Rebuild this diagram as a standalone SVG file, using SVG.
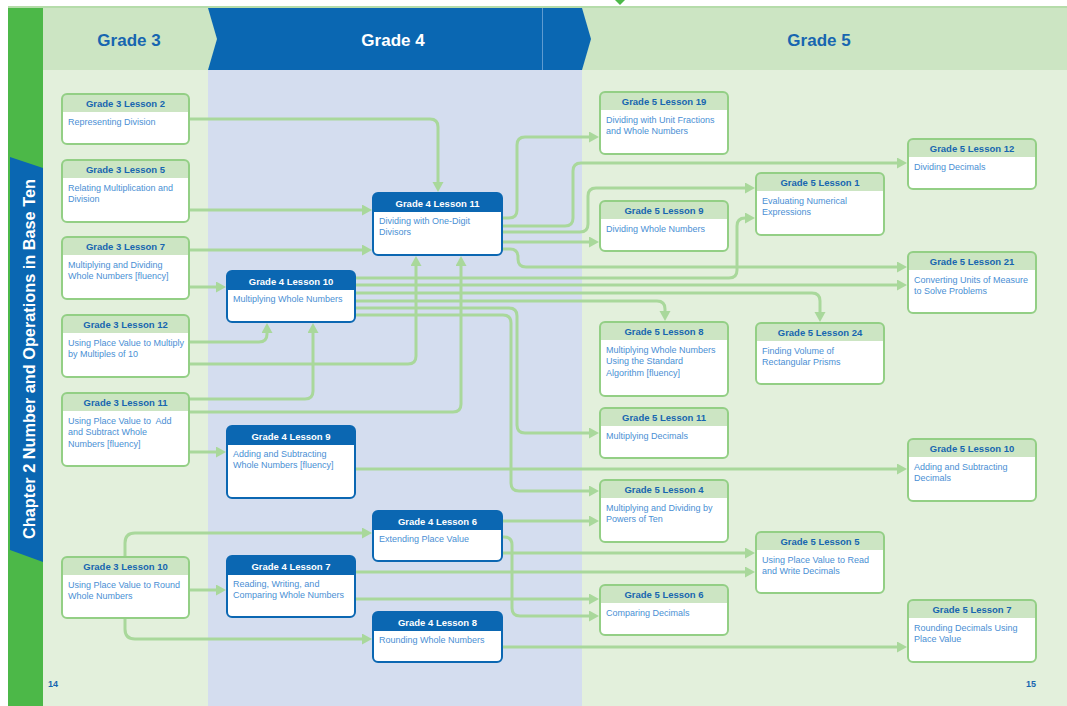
<svg xmlns="http://www.w3.org/2000/svg" width="1067" height="706" viewBox="0 0 1067 706">
<style>
.box{fill:#fff;stroke:none}
.ol{fill:none;stroke-width:2}
.g .ol{stroke:#93cf85}
.b .ol{stroke:#0b67b2}
.g .hd{fill:#cce5c3}
.b .hd{fill:#0b67b2}
.ht{font-family:"Liberation Sans",Arial,sans-serif;font-weight:bold;font-size:9.5px;text-anchor:middle;fill:#1766b0}
.b .ht{fill:#fff}
.bt{font-family:"Liberation Sans",Arial,sans-serif;font-size:9px;fill:#4a8fd4}
.cn path{fill:none;stroke:#a9d89b;stroke-width:3;marker-end:url(#ar)}
.gh{font-family:"Liberation Sans",Arial,sans-serif;font-weight:bold;font-size:17px;text-anchor:middle}
.pn{font-family:"Liberation Sans",Arial,sans-serif;font-weight:bold;font-size:9px;fill:#1766b0}
</style>
<defs>
<marker id="ar" markerUnits="userSpaceOnUse" markerWidth="11" markerHeight="12" refX="6" refY="5.5" orient="auto">
<path d="M0,0 L10,5.5 L0,11 z" fill="#a9d89b"/>
</marker>
</defs>
<rect x="0" y="0" width="1067" height="706" fill="#fff"/>
<!-- backgrounds -->
<rect x="8" y="8" width="1059" height="698" fill="#e3f0dc"/>
<rect x="208" y="70" width="374" height="636" fill="#d4ddef"/>
<line x1="8" y1="7" x2="1067" y2="7" stroke="#b5dcaa" stroke-width="2"/>
<polygon points="615,0 625,0 620,5" fill="#4cb848"/>
<!-- headers -->
<rect x="542" y="8" width="525" height="62" fill="#cce5c3"/>
<polygon points="208,8 582,8 591,39 582,70 208,70" fill="#0a67b2"/>
<line x1="542.5" y1="8" x2="542.5" y2="70" stroke="#5f9bd0" stroke-width="1"/>
<polygon points="43,8 208,8 217,39 208,70 43,70" fill="#cce5c3"/>
<text class="gh" x="129" y="46" fill="#1766b0">Grade 3</text>
<text class="gh" x="393" y="46" fill="#fff">Grade 4</text>
<text class="gh" x="819" y="46" fill="#1766b0">Grade 5</text>
<!-- left strip -->
<rect x="8" y="8" width="35" height="698" fill="#4cb848"/>
<polygon points="10,157 43,168 43,562 10,550" fill="#0a67b2"/>
<text transform="translate(35,359) rotate(-90)" font-family="'Liberation Sans',Arial,sans-serif" font-weight="bold" font-size="16.3" fill="#fff" text-anchor="middle">Chapter 2 Number and Operations in Base Ten</text>
<text class="pn" x="48" y="687">14</text>
<text class="pn" x="1026" y="687">15</text>

<!-- connectors -->
<g class="cn" id="connectors">
<path d="M189,119 H430 Q438,119 438,127 V188"/>
<path d="M189,210 H368"/>
<path d="M189,250 H368"/>
<path d="M189,287 H222"/>
<path d="M189,342 H259 Q267,342 267,334 V327"/>
<path d="M189,364 H408 Q416,364 416,356 V260"/>
<path d="M189,399 H305 Q313,399 313,391 V327"/>
<path d="M189,412 H453 Q461,412 461,404 V260"/>
<path d="M189,452 H222"/>
<path d="M125,557 V543 Q125,533 135,533 H368"/>
<path d="M189,590 H222"/>
<path d="M125,618 V629 Q125,639 135,639 H368"/>
<path d="M502,218 H509 Q517,218 517,210 V145 Q517,137 525,137 H595"/>
<path d="M502,226 H565 Q573,226 573,218 V171 Q573,163 581,163 H903"/>
<path d="M502,232 H580 Q588,232 588,224 V196 Q588,188 596,188 H751"/>
<path d="M502,242 H595"/>
<path d="M502,249 H510 Q518,249 518,257 V259 Q518,267 526,267 H903"/>
<path d="M355,278 H729 Q737,278 737,270 V226 Q737,218 745,218 H751"/>
<path d="M355,285 H903"/>
<path d="M355,293 H812 Q820,293 820,301 V318"/>
<path d="M355,301 H657 Q665,301 665,309 V317"/>
<path d="M355,308 H509 Q517,308 517,316 V425 Q517,433 525,433 H595"/>
<path d="M355,315 H503 Q511,315 511,323 V483 Q511,491 519,491 H595"/>
<path d="M355,469 H903"/>
<path d="M502,521 H595"/>
<path d="M502,537 H504 Q512,537 512,545 V608 Q512,616 520,616 H595"/>
<path d="M502,553 H751"/>
<path d="M355,572 H751"/>
<path d="M355,599 H595"/>
<path d="M502,647 H903"/>
</g>

<!-- Grade 3 nodes -->
<g id="g3l2" class="g"><rect class="box" x="62" y="94" width="127" height="50" rx="5"/><rect class="hd" x="62" y="94" width="127" height="18" rx="5"/><rect class="hd" x="62" y="104" width="127" height="8"/><rect class="ol" x="62" y="94" width="127" height="50" rx="5"/><text class="ht" x="125.5" y="107">Grade 3 Lesson 2</text><text class="bt" x="68" y="124.5">Representing Division</text></g>
<g id="g3l5" class="g"><rect class="box" x="62" y="160" width="127" height="62" rx="5"/><rect class="hd" x="62" y="160" width="127" height="18" rx="5"/><rect class="hd" x="62" y="170" width="127" height="8"/><rect class="ol" x="62" y="160" width="127" height="62" rx="5"/><text class="ht" x="125.5" y="173">Grade 3 Lesson 5</text><text class="bt" x="68" y="190.5">Relating Multiplication and</text><text class="bt" x="68" y="202">Division</text></g>
<g id="g3l7" class="g"><rect class="box" x="62" y="237" width="127" height="62" rx="5"/><rect class="hd" x="62" y="237" width="127" height="18" rx="5"/><rect class="hd" x="62" y="247" width="127" height="8"/><rect class="ol" x="62" y="237" width="127" height="62" rx="5"/><text class="ht" x="125.5" y="250">Grade 3 Lesson 7</text><text class="bt" x="68" y="267.5">Multiplying and Dividing</text><text class="bt" x="68" y="279">Whole Numbers [fluency]</text></g>
<g id="g3l12" class="g"><rect class="box" x="62" y="315" width="127" height="62" rx="5"/><rect class="hd" x="62" y="315" width="127" height="18" rx="5"/><rect class="hd" x="62" y="325" width="127" height="8"/><rect class="ol" x="62" y="315" width="127" height="62" rx="5"/><text class="ht" x="125.5" y="328">Grade 3 Lesson 12</text><text class="bt" x="68" y="345.5">Using Place Value to Multiply</text><text class="bt" x="68" y="357">by Multiples of 10</text></g>
<g id="g3l11" class="g"><rect class="box" x="62" y="393" width="127" height="73" rx="5"/><rect class="hd" x="62" y="393" width="127" height="18" rx="5"/><rect class="hd" x="62" y="403" width="127" height="8"/><rect class="ol" x="62" y="393" width="127" height="73" rx="5"/><text class="ht" x="125.5" y="406">Grade 3 Lesson 11</text><text class="bt" x="68" y="423.5" xml:space="preserve">Using Place Value to  Add</text><text class="bt" x="68" y="435">and Subtract Whole</text><text class="bt" x="68" y="446.5">Numbers [fluency]</text></g>
<g id="g3l10" class="g"><rect class="box" x="62" y="557" width="127" height="61" rx="5"/><rect class="hd" x="62" y="557" width="127" height="18" rx="5"/><rect class="hd" x="62" y="567" width="127" height="8"/><rect class="ol" x="62" y="557" width="127" height="61" rx="5"/><text class="ht" x="125.5" y="570">Grade 3 Lesson 10</text><text class="bt" x="68" y="587.5">Using Place Value to Round</text><text class="bt" x="68" y="599">Whole Numbers</text></g>

<!-- Grade 4 nodes -->
<g id="g4l11" class="b"><rect class="box" x="373" y="193" width="129" height="62" rx="5"/><rect class="hd" x="373" y="193" width="129" height="19" rx="5"/><rect class="hd" x="373" y="203" width="129" height="9"/><rect class="ol" x="373" y="193" width="129" height="62" rx="5"/><text class="ht" x="437.5" y="206.5">Grade 4 Lesson 11</text><text class="bt" x="379" y="223.5">Dividing with One-Digit</text><text class="bt" x="379" y="235">Divisors</text></g>
<g id="g4l10" class="b"><rect class="box" x="227" y="271" width="128" height="51" rx="5"/><rect class="hd" x="227" y="271" width="128" height="19" rx="5"/><rect class="hd" x="227" y="281" width="128" height="9"/><rect class="ol" x="227" y="271" width="128" height="51" rx="5"/><text class="ht" x="291" y="284.5">Grade 4 Lesson 10</text><text class="bt" x="233" y="301.5">Multiplying Whole Numbers</text></g>
<g id="g4l9" class="b"><rect class="box" x="227" y="426" width="128" height="72" rx="5"/><rect class="hd" x="227" y="426" width="128" height="19" rx="5"/><rect class="hd" x="227" y="436" width="128" height="9"/><rect class="ol" x="227" y="426" width="128" height="72" rx="5"/><text class="ht" x="291" y="439.5">Grade 4 Lesson 9</text><text class="bt" x="233" y="456.5">Adding and Subtracting</text><text class="bt" x="233" y="468">Whole Numbers [fluency]</text></g>
<g id="g4l6" class="b"><rect class="box" x="373" y="511" width="129" height="50" rx="5"/><rect class="hd" x="373" y="511" width="129" height="19" rx="5"/><rect class="hd" x="373" y="521" width="129" height="9"/><rect class="ol" x="373" y="511" width="129" height="50" rx="5"/><text class="ht" x="437.5" y="524.5">Grade 4 Lesson 6</text><text class="bt" x="379" y="541.5">Extending Place Value</text></g>
<g id="g4l7" class="b"><rect class="box" x="227" y="556" width="128" height="61" rx="5"/><rect class="hd" x="227" y="556" width="128" height="19" rx="5"/><rect class="hd" x="227" y="566" width="128" height="9"/><rect class="ol" x="227" y="556" width="128" height="61" rx="5"/><text class="ht" x="291" y="569.5">Grade 4 Lesson 7</text><text class="bt" x="233" y="586.5">Reading, Writing, and</text><text class="bt" x="233" y="598">Comparing Whole Numbers</text></g>
<g id="g4l8" class="b"><rect class="box" x="373" y="612" width="129" height="50" rx="5"/><rect class="hd" x="373" y="612" width="129" height="19" rx="5"/><rect class="hd" x="373" y="622" width="129" height="9"/><rect class="ol" x="373" y="612" width="129" height="50" rx="5"/><text class="ht" x="437.5" y="625.5">Grade 4 Lesson 8</text><text class="bt" x="379" y="642.5">Rounding Whole Numbers</text></g>

<!-- Grade 5 nodes -->
<g id="g5l19" class="g"><rect class="box" x="600" y="92" width="128" height="62" rx="5"/><rect class="hd" x="600" y="92" width="128" height="18" rx="5"/><rect class="hd" x="600" y="102" width="128" height="8"/><rect class="ol" x="600" y="92" width="128" height="62" rx="5"/><text class="ht" x="664" y="105">Grade 5 Lesson 19</text><text class="bt" x="606" y="122.5">Dividing with Unit Fractions</text><text class="bt" x="606" y="134">and Whole Numbers</text></g>
<g id="g5l12" class="g"><rect class="box" x="908" y="139" width="128" height="50" rx="5"/><rect class="hd" x="908" y="139" width="128" height="18" rx="5"/><rect class="hd" x="908" y="149" width="128" height="8"/><rect class="ol" x="908" y="139" width="128" height="50" rx="5"/><text class="ht" x="972" y="152">Grade 5 Lesson 12</text><text class="bt" x="914" y="169.5">Dividing Decimals</text></g>
<g id="g5l1" class="g"><rect class="box" x="756" y="173" width="128" height="62" rx="5"/><rect class="hd" x="756" y="173" width="128" height="18" rx="5"/><rect class="hd" x="756" y="183" width="128" height="8"/><rect class="ol" x="756" y="173" width="128" height="62" rx="5"/><text class="ht" x="820" y="186">Grade 5 Lesson 1</text><text class="bt" x="762" y="203.5">Evaluating Numerical</text><text class="bt" x="762" y="215">Expressions</text></g>
<g id="g5l9" class="g"><rect class="box" x="600" y="201" width="128" height="50" rx="5"/><rect class="hd" x="600" y="201" width="128" height="18" rx="5"/><rect class="hd" x="600" y="211" width="128" height="8"/><rect class="ol" x="600" y="201" width="128" height="50" rx="5"/><text class="ht" x="664" y="214">Grade 5 Lesson 9</text><text class="bt" x="606" y="231.5">Dividing Whole Numbers</text></g>
<g id="g5l21" class="g"><rect class="box" x="908" y="252" width="128" height="61" rx="5"/><rect class="hd" x="908" y="252" width="128" height="18" rx="5"/><rect class="hd" x="908" y="262" width="128" height="8"/><rect class="ol" x="908" y="252" width="128" height="61" rx="5"/><text class="ht" x="972" y="265">Grade 5 Lesson 21</text><text class="bt" x="914" y="282.5">Converting Units of Measure</text><text class="bt" x="914" y="294">to Solve Problems</text></g>
<g id="g5l8" class="g"><rect class="box" x="600" y="322" width="128" height="74" rx="5"/><rect class="hd" x="600" y="322" width="128" height="18" rx="5"/><rect class="hd" x="600" y="332" width="128" height="8"/><rect class="ol" x="600" y="322" width="128" height="74" rx="5"/><text class="ht" x="664" y="335">Grade 5 Lesson 8</text><text class="bt" x="606" y="352.5">Multiplying Whole Numbers</text><text class="bt" x="606" y="364">Using the Standard</text><text class="bt" x="606" y="375.5">Algorithm [fluency]</text></g>
<g id="g5l24" class="g"><rect class="box" x="756" y="323" width="128" height="61" rx="5"/><rect class="hd" x="756" y="323" width="128" height="18" rx="5"/><rect class="hd" x="756" y="333" width="128" height="8"/><rect class="ol" x="756" y="323" width="128" height="61" rx="5"/><text class="ht" x="820" y="336">Grade 5 Lesson 24</text><text class="bt" x="762" y="353.5">Finding Volume of</text><text class="bt" x="762" y="365">Rectangular Prisms</text></g>
<g id="g5l11" class="g"><rect class="box" x="600" y="408" width="128" height="50" rx="5"/><rect class="hd" x="600" y="408" width="128" height="18" rx="5"/><rect class="hd" x="600" y="418" width="128" height="8"/><rect class="ol" x="600" y="408" width="128" height="50" rx="5"/><text class="ht" x="664" y="421">Grade 5 Lesson 11</text><text class="bt" x="606" y="438.5">Multiplying Decimals</text></g>
<g id="g5l10" class="g"><rect class="box" x="908" y="439" width="128" height="62" rx="5"/><rect class="hd" x="908" y="439" width="128" height="18" rx="5"/><rect class="hd" x="908" y="449" width="128" height="8"/><rect class="ol" x="908" y="439" width="128" height="62" rx="5"/><text class="ht" x="972" y="452">Grade 5 Lesson 10</text><text class="bt" x="914" y="469.5">Adding and Subtracting</text><text class="bt" x="914" y="481">Decimals</text></g>
<g id="g5l4" class="g"><rect class="box" x="600" y="480" width="128" height="62" rx="5"/><rect class="hd" x="600" y="480" width="128" height="18" rx="5"/><rect class="hd" x="600" y="490" width="128" height="8"/><rect class="ol" x="600" y="480" width="128" height="62" rx="5"/><text class="ht" x="664" y="493">Grade 5 Lesson 4</text><text class="bt" x="606" y="510.5">Multiplying and Dividing by</text><text class="bt" x="606" y="522">Powers of Ten</text></g>
<g id="g5l5" class="g"><rect class="box" x="756" y="532" width="128" height="61" rx="5"/><rect class="hd" x="756" y="532" width="128" height="18" rx="5"/><rect class="hd" x="756" y="542" width="128" height="8"/><rect class="ol" x="756" y="532" width="128" height="61" rx="5"/><text class="ht" x="820" y="545">Grade 5 Lesson 5</text><text class="bt" x="762" y="562.5">Using Place Value to Read</text><text class="bt" x="762" y="574">and Write Decimals</text></g>
<g id="g5l6" class="g"><rect class="box" x="600" y="585" width="128" height="50" rx="5"/><rect class="hd" x="600" y="585" width="128" height="18" rx="5"/><rect class="hd" x="600" y="595" width="128" height="8"/><rect class="ol" x="600" y="585" width="128" height="50" rx="5"/><text class="ht" x="664" y="598">Grade 5 Lesson 6</text><text class="bt" x="606" y="615.5">Comparing Decimals</text></g>
<g id="g5l7" class="g"><rect class="box" x="908" y="600" width="128" height="62" rx="5"/><rect class="hd" x="908" y="600" width="128" height="18" rx="5"/><rect class="hd" x="908" y="610" width="128" height="8"/><rect class="ol" x="908" y="600" width="128" height="62" rx="5"/><text class="ht" x="972" y="613">Grade 5 Lesson 7</text><text class="bt" x="914" y="630.5">Rounding Decimals Using</text><text class="bt" x="914" y="642">Place Value</text></g>
</svg>
